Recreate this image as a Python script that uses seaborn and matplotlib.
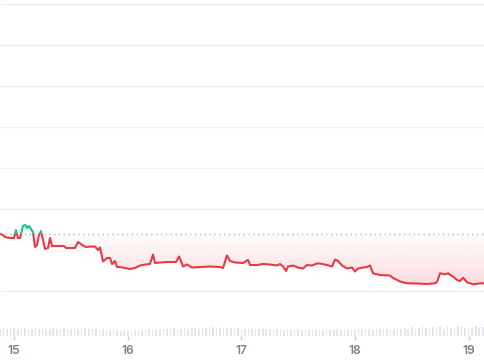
import numpy as np
import matplotlib
matplotlib.use("Agg")
import matplotlib.pyplot as plt
import seaborn as sns
from matplotlib.patches import Rectangle

# ---------------- data ----------------
days = [14.875, 14.901, 14.919, 14.963, 14.998, 15.016, 15.033, 15.051, 15.077, 15.095,
        15.113, 15.130, 15.148, 15.165, 15.183, 15.201, 15.218, 15.236, 15.254, 15.271,
        15.298, 15.315, 15.333, 15.359, 15.403, 15.438, 15.456, 15.491, 15.535, 15.562,
        15.597, 15.632, 15.667, 15.711, 15.738, 15.755, 15.782, 15.817, 15.843, 15.861,
        15.887, 15.905, 15.931, 15.975, 16.019, 16.063, 16.107, 16.151, 16.195, 16.222,
        16.239, 16.283, 16.354, 16.424, 16.451, 16.486, 16.521, 16.565, 16.636, 16.724,
        16.812, 16.838, 16.873, 16.900, 16.944, 17.014, 17.058, 17.076, 17.137, 17.190,
        17.252, 17.313, 17.340, 17.366, 17.393, 17.410, 17.454, 17.498, 17.542, 17.577,
        17.621, 17.665, 17.692, 17.753, 17.798, 17.824, 17.850, 17.886, 17.930, 17.974,
        18.000, 18.026, 18.070, 18.106, 18.132, 18.158, 18.220, 18.308, 18.335, 18.396,
        18.458, 18.546, 18.634, 18.704, 18.722, 18.748, 18.792, 18.819, 18.863, 18.898,
        18.924, 18.951, 18.986, 19.039, 19.100, 19.144]

price = [1.400, 1.366, 1.317, 1.293, 1.293, 1.488, 1.293, 1.293, 1.585, 1.610,
         1.537, 1.585, 1.512, 1.439, 1.073, 1.122, 1.366, 1.463, 1.244, 1.024,
         1.049, 1.293, 1.098, 1.098, 1.098, 1.098, 1.049, 1.049, 1.049, 1.195,
         1.122, 1.073, 1.085, 1.085, 1.000, 1.061, 0.720, 0.805, 0.805, 0.659,
         0.732, 0.585, 0.585, 0.561, 0.537, 0.561, 0.622, 0.646, 0.659, 0.890,
         0.683, 0.695, 0.707, 0.707, 0.841, 0.598, 0.646, 0.573, 0.585, 0.598,
         0.585, 0.561, 0.866, 0.732, 0.695, 0.683, 0.756, 0.634, 0.634, 0.659,
         0.646, 0.622, 0.659, 0.598, 0.488, 0.598, 0.622, 0.573, 0.549, 0.634,
         0.622, 0.671, 0.671, 0.634, 0.598, 0.768, 0.732, 0.622, 0.549, 0.573,
         0.476, 0.549, 0.573, 0.585, 0.622, 0.432, 0.390, 0.378, 0.317, 0.232,
         0.188, 0.183, 0.171, 0.188, 0.220, 0.432, 0.407, 0.432, 0.349, 0.268,
         0.244, 0.324, 0.212, 0.163, 0.188, 0.188]

base_price = 1.40

vol_start = 14.875
vol_step = 0.03125
volume = [7, 8, 7, 8, 8, 7, 8, 8, 7, 7, 8, 7, 8, 7, 7, 8, 7, 7, 8, 7, 7, 8, 7, 7, 8, 7, 7, 7, 6, 7, 6, 6,
          6, 5, 5, 6, 5, 5, 6, 6, 6, 7, 7, 6, 7, 7, 7, 7,
          7, 8, 7, 7, 8, 7, 8, 8, 7, 8, 8, 8, 9, 8, 8, 9, 8, 8, 7, 8, 7, 7, 8, 7, 7, 7, 7, 7,
          7, 6, 7, 7, 6, 7, 6, 6, 7, 6, 6, 6, 7, 6, 6, 6, 5, 6, 6, 7, 6, 6, 7, 7, 6, 7, 7, 7,
          7, 6, 7, 7, 8, 7, 6, 7, 8, 7, 8, 7, 9, 7, 8, 10, 8, 7, 9, 8, 10, 7, 9, 8, 7, 10, 9, 8,
          7, 9, 10, 8, 9]

tick_days = [15, 16, 17, 18, 19]
tick_labels = ["15", "16", "17", "18", "19"]
grid_levels = [0, 2, 3, 4, 5, 6, 7]

RED = "#ea3943"
GREEN = "#16c784"

# ---------------- figure ----------------
sns.set_theme(style="white")
plt.rcParams['font.family'] = ['Inter', 'DejaVu Sans']

W, H = 485, 360
fig = plt.figure(figsize=(W / 100, H / 100), dpi=100)
fig.patch.set_facecolor("white")

X0, X1 = 14.875, 19.144
ax = fig.add_axes([0, 22 / H, 1, 338 / H])
ax.set_facecolor("none")
ax.set_yticks(grid_levels)
ax.yaxis.grid(True, color="#eff0f3", lw=1.0)
ax.xaxis.grid(False)
ax.set_axisbelow(True)
ax.tick_params(left=False, bottom=False, labelleft=False, labelbottom=False)
for s in ax.spines.values():
    s.set_visible(False)

# fill polygon (between price and baseline)
poly = ax.fill_between(days, price, base_price, facecolor="none", edgecolor="none")
clip_path = poly.get_paths()[0]

n = 256
red_rgb = np.array([234, 57, 67]) / 255
grad_r = np.zeros((n, 1, 4))
grad_r[..., :3] = red_rgb
grad_r[:, 0, 3] = np.linspace(0.19, 0.015, n)  # bottom -> top
im_r = ax.imshow(grad_r, extent=[X0, X1, 0.05, base_price], origin="lower",
                 aspect="auto", zorder=1, interpolation="bilinear")
im_r.set_clip_path(clip_path, transform=ax.transData)

grn_rgb = np.array([22, 199, 132]) / 255
grad_g = np.zeros((n, 1, 4))
grad_g[..., :3] = grn_rgb
grad_g[:, 0, 3] = np.linspace(0.03, 0.18, n)
im_g = ax.imshow(grad_g, extent=[X0, X1, base_price, 1.7], origin="lower",
                 aspect="auto", zorder=1, interpolation="bilinear")
im_g.set_clip_path(clip_path, transform=ax.transData)

# baseline dotted
ax.axhline(base_price, color="#b4b8c0", lw=1.0, ls=(0, (1, 2.5)), zorder=2)

# price line: red below baseline, green above
sns.lineplot(x=days, y=price, ax=ax, color=RED, lw=1.5, estimator=None, sort=False, zorder=4)
ln_r = ax.lines[-1]
ln_r.set_clip_path(Rectangle((X0 - 1, -10), X1 - X0 + 2, base_price + 10, transform=ax.transData))
sns.lineplot(x=days, y=price, ax=ax, color=GREEN, lw=1.5, estimator=None, sort=False, zorder=4)
ln_g = ax.lines[-1]
ln_g.set_clip_path(Rectangle((X0 - 1, base_price), X1 - X0 + 2, 20, transform=ax.transData))
ax.set_xlim(X0, X1)
ax.set_ylim(-1.146, 7.098)
ax.set_xlabel("")
ax.set_ylabel("")

# ---------------- volume ----------------
axv = fig.add_axes([0, 24 / H, 1, 11 / H])
vol_days = vol_start + vol_step * np.arange(len(volume))
axv.bar(vol_days, volume, width=vol_step * 0.45, color="#e4e6ec", edgecolor="none")
axv.set_xlim(X0, X1)
axv.set_ylim(0, 11)
axv.set_facecolor("none")
for s in axv.spines.values():
    s.set_visible(False)
axv.set_yticks([])
axv.set_xticks(tick_days)
axv.set_xticklabels(tick_labels, fontweight="semibold")
axv.tick_params(axis="x", bottom=True, length=3, width=1, color="#c9cdd4",
                labelsize=8.6, labelcolor="#7b8190", pad=3.5)
axv.grid(False)
axv.set_xlabel("")
axv.set_ylabel("")

fig.savefig("out.png", dpi=100, facecolor="white")
